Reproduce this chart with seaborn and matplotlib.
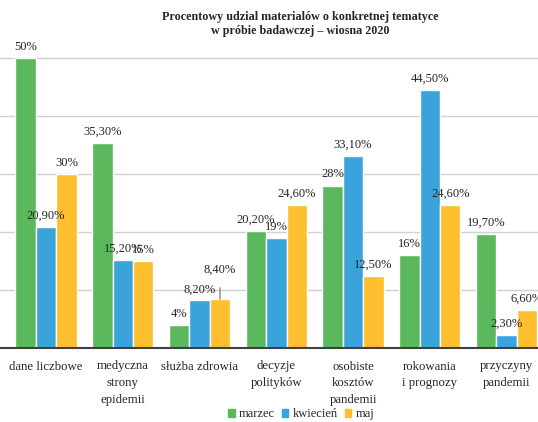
import matplotlib
matplotlib.use("Agg")
import matplotlib.pyplot as plt
import seaborn as sns
import pandas as pd

categories = ["dane liczbowe", "medyczna\nstrony\nepidemii", "służba zdrowia",
              "decyzje\npolityków", "osobiste\nkosztów\npandemii",
              "rokowania\ni prognozy", "przyczyny\npandemii"]
months = ["marzec", "kwiecień", "maj"]
marzec = [50, 35.3, 4, 20.2, 28, 16, 19.7]
kwiecien = [20.9, 15.2, 8.2, 19, 33.1, 44.5, 2.3]
maj = [30, 15, 8.4, 24.6, 12.5, 24.6, 6.6]
labels_marzec = ["50%", "35,30%", "4%", "20,20%", "28%", "16%", "19,70%"]
labels_kwiecien = ["20,90%", "15,20%", "8,20%", "19%", "33,10%", "44,50%", "2,30%"]
labels_maj = ["30%", "15%", "8,40%", "24,60%", "12,50%", "24,60%", "6,60%"]
title = "Procentowy udzial materialów o konkretnej tematyce\nw próbie badawczej – wiosna 2020"

colors = ["#5cb85c", "#3ba3dc", "#fdbf2d"]

rows = []
for vals, m in zip([marzec, kwiecien, maj], months):
    for c, v in zip(categories, vals):
        rows.append({"kategoria": c, "miesiąc": m, "wartość": v})
df = pd.DataFrame(rows)

sns.set_theme(style="white")
plt.rcParams["font.family"] = ["Liberation Serif", "DejaVu Serif"]

fig = plt.figure(figsize=(5.38, 4.22), dpi=100)
ax = fig.add_axes([0, 74 / 422, 1, 348 / 422])
sns.barplot(data=df, x="kategoria", y="wartość", hue="miesiąc", order=categories,
            hue_order=months, palette=colors, width=0.8, saturation=1,
            ax=ax, legend=True, zorder=3)

ax.set_ylim(0, 60)
ax.set_xlim(-0.6, 6.41)
ax.set_yticks([0, 10, 20, 30, 40, 50])
ax.set_yticklabels([])
ax.tick_params(axis="y", length=0)
ax.grid(axis="y", color="#d0d0d0", linewidth=1, zorder=0)
ax.set_axisbelow(True)
for s in ["left", "right", "top"]:
    ax.spines[s].set_visible(False)
ax.spines["bottom"].set_color("#404040")
ax.spines["bottom"].set_linewidth(1.5)
ax.spines["bottom"].set_zorder(4)
ax.set_xlabel("")
ax.set_ylabel("")
ax.tick_params(axis="x", length=0, pad=9, labelsize=9.2)
for t in ax.get_xticklabels():
    t.set_linespacing(1.5)
    t.set_va("top")

all_labels = [labels_marzec, labels_kwiecien, labels_maj]
for ci, cont in enumerate(ax.containers):
    for bi, bar in enumerate(cont):
        x = bar.get_x() + bar.get_width() / 2
        h = bar.get_height()
        lab = all_labels[ci][bi]
        if ci == 2 and bi == 2:
            ax.annotate(lab, xy=(x, h), xytext=(0, 21), textcoords="offset points",
                        ha="center", va="center", fontsize=9,
                        arrowprops=dict(arrowstyle="-", color="#707070", lw=0.8,
                                        shrinkA=6, shrinkB=0), zorder=5)
        else:
            ax.annotate(lab, xy=(x, h), xytext=(0, 8), textcoords="offset points",
                        ha="center", va="center", fontsize=9, zorder=5)

fig.text(0.558, 0.975, title, ha="center", va="top", fontsize=8.7,
         fontweight="bold", linespacing=1.3)

ax.legend_.remove()
handles = [plt.Rectangle((0, 0), 1, 1, color=c) for c in colors]
fig.legend(handles, months, loc="center", bbox_to_anchor=(0.56, 0.018), ncol=3,
           frameon=False, fontsize=9, handlelength=0.5, handleheight=0.5,
           handletextpad=0.35, columnspacing=0.55, borderaxespad=0)

fig.savefig("out.png", dpi=100)
